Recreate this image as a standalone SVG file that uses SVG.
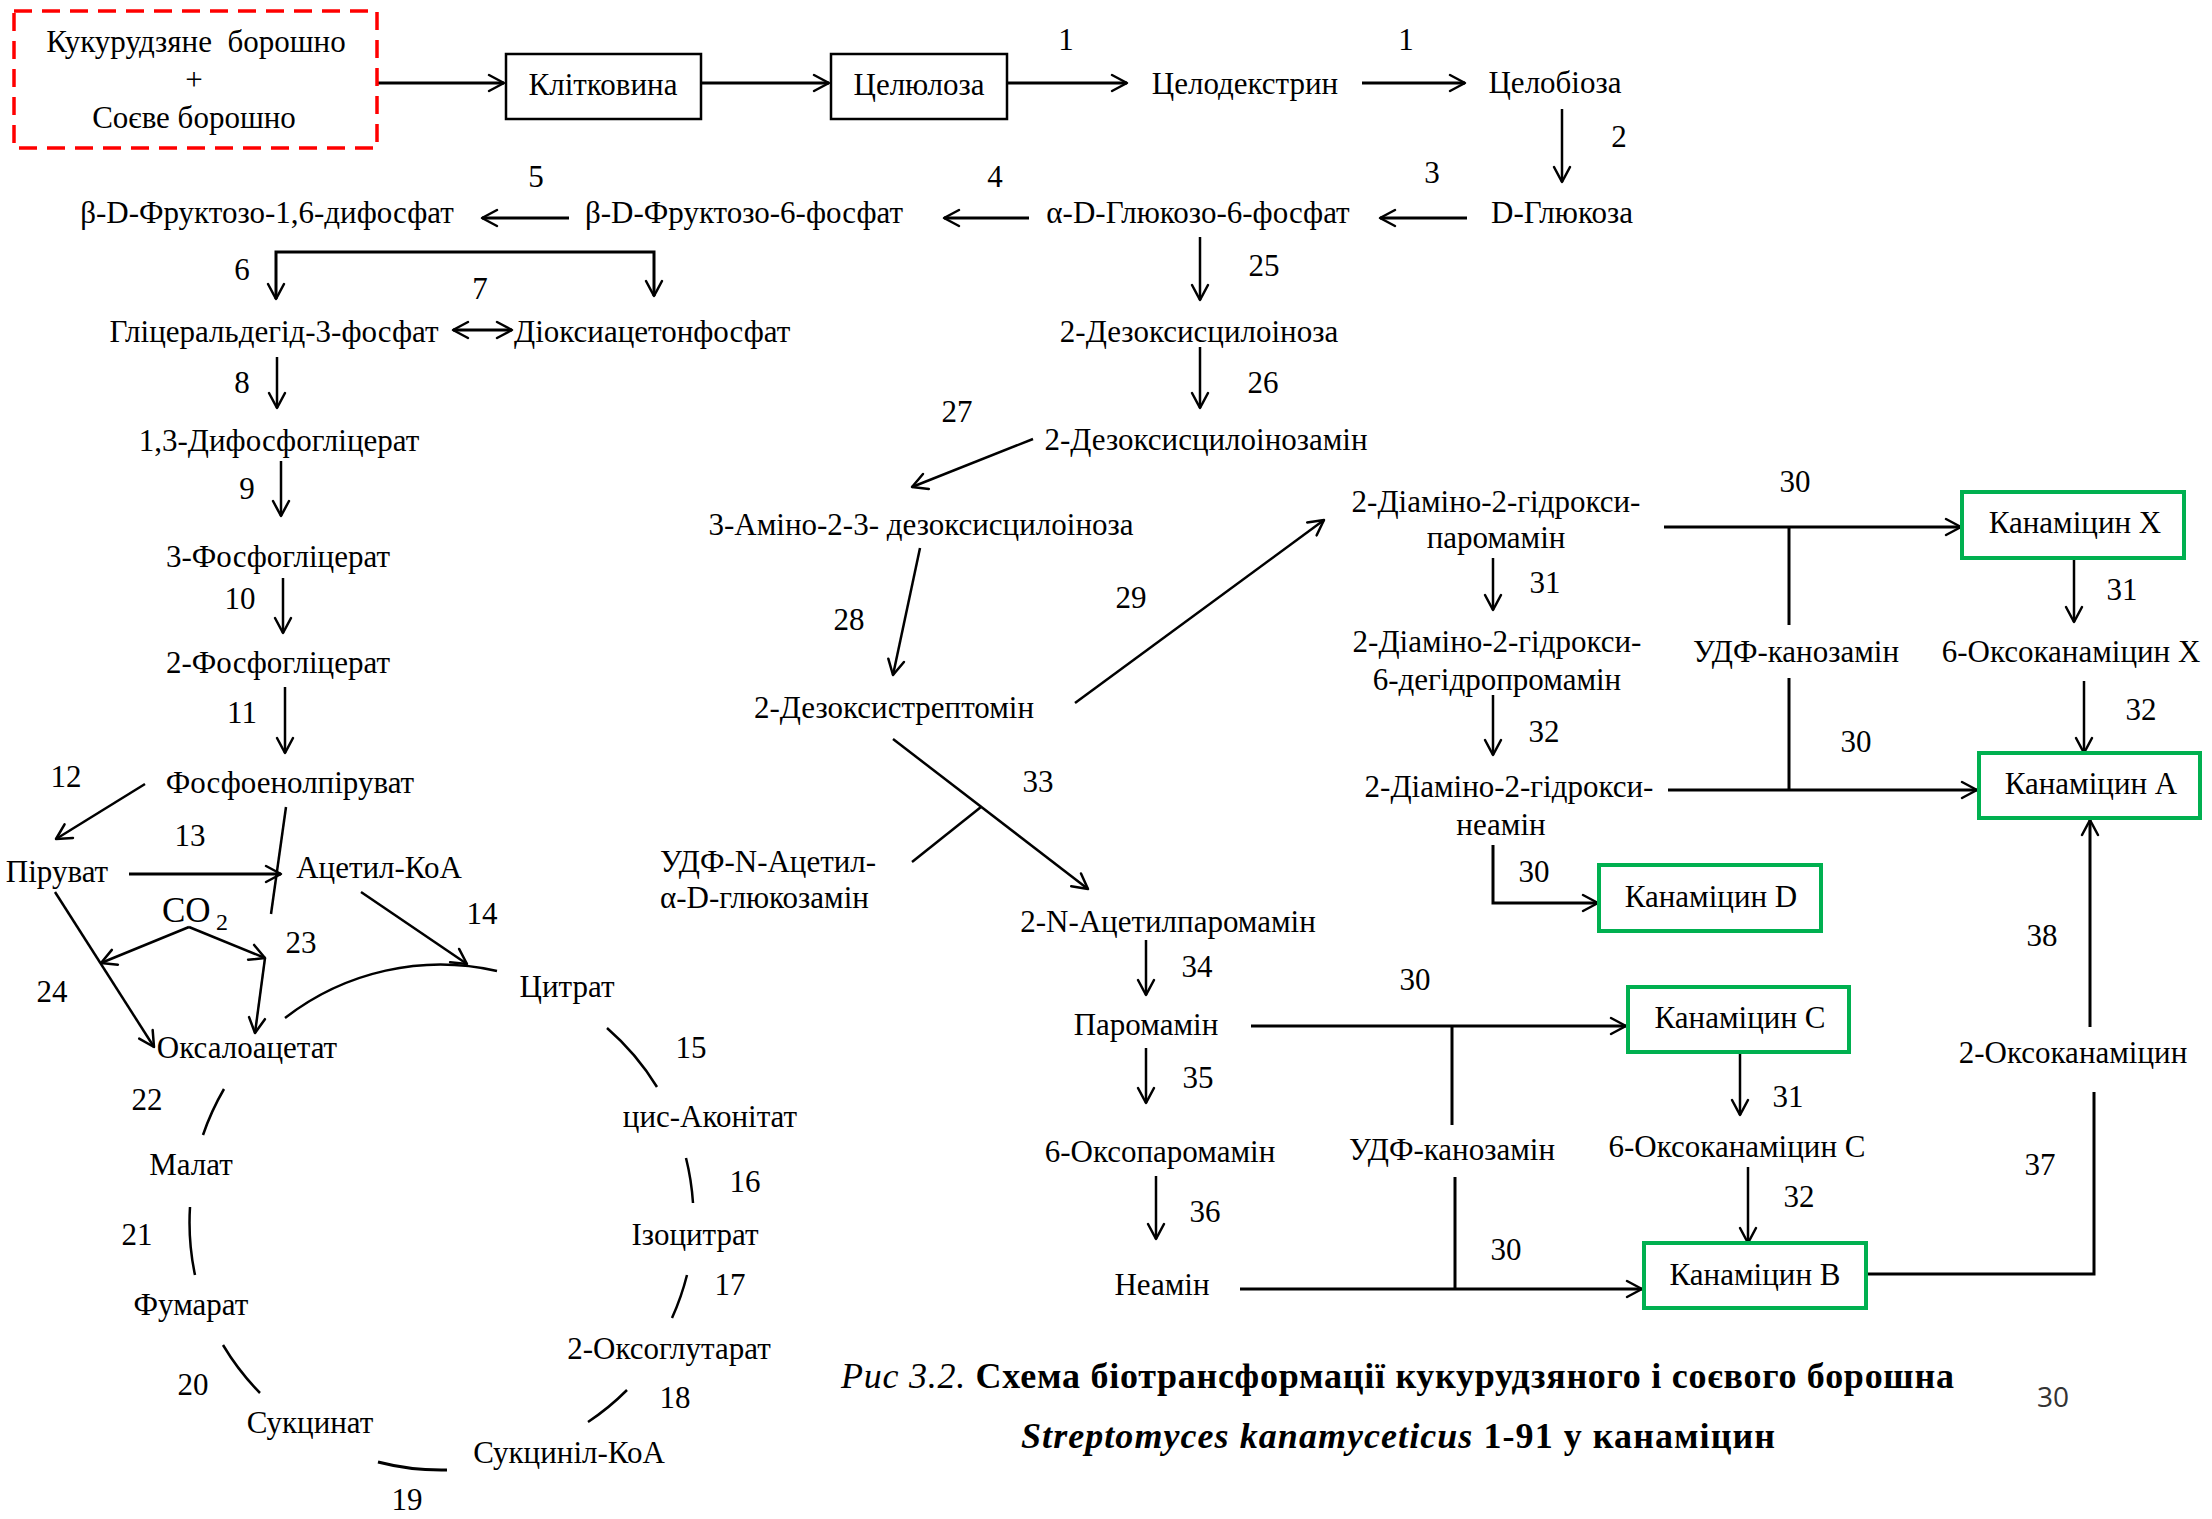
<svg xmlns="http://www.w3.org/2000/svg" width="2212" height="1519" viewBox="0 0 2212 1519">
<style>
text{font-family:"Liberation Serif","Times New Roman",serif;font-size:31px;fill:#000}
.m{text-anchor:middle}
.c{fill:none;stroke:#000;stroke-width:2.5}
.c3{fill:none;stroke:#000;stroke-width:3}
.box{fill:#fff;stroke:#000;stroke-width:2.5}
.gbox{fill:#fff;stroke:#00B050;stroke-width:4}
.a{marker-end:url(#ah)}
.cap{font-size:36px;font-weight:bold}
</style>
<defs>
<marker id="ah" markerUnits="userSpaceOnUse" markerWidth="20" markerHeight="20" viewBox="0 0 20 20" refX="17" refY="10" orient="auto-start-reverse">
<path d="M2,2 L17,10 L2,18" fill="none" stroke="#000" stroke-width="2.5" stroke-linejoin="round" stroke-linecap="round"/>
</marker>
</defs>
<rect width="2212" height="1519" fill="#fff"/>

<g id="connectors">
<line class="c3 a" x1="377" y1="83" x2="504" y2="83"/>
<line class="c3 a" x1="701" y1="83" x2="829" y2="83"/>
<line class="c3 a" x1="1007" y1="83" x2="1127" y2="83"/>
<line class="c3 a" x1="1362" y1="83" x2="1465" y2="83"/>
<line class="c a" x1="1562" y1="109" x2="1562" y2="182"/>
<line class="c3 a" x1="1467" y1="218" x2="1380" y2="218"/>
<line class="c3 a" x1="1029" y1="218" x2="944" y2="218"/>
<line class="c3 a" x1="569" y1="218" x2="482" y2="218"/>
<path class="c3" d="M276,299 L276,252 L654,252 L654,296" marker-start="url(#ah)" marker-end="url(#ah)"/>
<line class="c3" x1="453" y1="330" x2="512" y2="330" marker-start="url(#ah)" marker-end="url(#ah)"/>
<line class="c a" x1="277" y1="357" x2="277" y2="408"/>
<line class="c a" x1="281" y1="461" x2="281" y2="516"/>
<line class="c a" x1="283" y1="578" x2="283" y2="633"/>
<line class="c a" x1="285" y1="687" x2="285" y2="753"/>
<line class="c a" x1="145" y1="784" x2="56" y2="839"/>
<line class="c3 a" x1="129" y1="874" x2="281" y2="874"/>
<line class="c" x1="286" y1="807" x2="271" y2="914"/>
<line class="c a" x1="189" y1="927" x2="101" y2="963"/>
<line class="c a" x1="189" y1="927" x2="265" y2="958"/>
<line class="c a" x1="265" y1="958" x2="255" y2="1033"/>
<line class="c a" x1="55" y1="892" x2="154" y2="1047"/>
<line class="c a" x1="361" y1="892" x2="467" y2="964"/>
<path class="c" d="M285,1018 A253,253 0 0 1 497,971"/>
<path class="c" d="M607,1028 A253,253 0 0 1 657,1087"/>
<path class="c" d="M686,1158 A253,253 0 0 1 693,1203"/>
<path class="c" d="M687,1275 A253,253 0 0 1 672,1318"/>
<path class="c" d="M627,1390 A253,253 0 0 1 588,1422"/>
<path class="c3" d="M447,1470 A253,253 0 0 1 378,1462"/>
<path class="c" d="M260,1393 A253,253 0 0 1 223,1345"/>
<path class="c" d="M195,1275 A253,253 0 0 1 190,1207"/>
<path class="c" d="M203,1135 A253,253 0 0 1 224,1089"/>
<line class="c a" x1="1200" y1="237" x2="1200" y2="300"/>
<line class="c a" x1="1200" y1="347" x2="1200" y2="408"/>
<line class="c a" x1="1033" y1="439" x2="912" y2="487"/>
<line class="c a" x1="920" y1="548" x2="893" y2="675"/>
<line class="c a" x1="1075" y1="703" x2="1324" y2="520"/>
<line class="c a" x1="893" y1="739" x2="1088" y2="889"/>
<line class="c" x1="981" y1="807" x2="912" y2="862"/>
<line class="c a" x1="1146" y1="940" x2="1146" y2="995"/>
<line class="c a" x1="1146" y1="1048" x2="1146" y2="1103"/>
<line class="c a" x1="1156" y1="1176" x2="1156" y2="1239"/>
<line class="c3 a" x1="1251" y1="1026" x2="1626" y2="1026"/>
<line class="c3" x1="1452" y1="1026" x2="1452" y2="1125"/>
<line class="c3 a" x1="1240" y1="1289" x2="1642" y2="1289"/>
<line class="c3" x1="1455" y1="1177" x2="1455" y2="1289"/>
<line class="c a" x1="1740" y1="1052" x2="1740" y2="1115"/>
<line class="c a" x1="1748" y1="1167" x2="1748" y2="1243"/>
<path class="c3" d="M1866,1274 L2094,1274 L2094,1092"/>
<line class="c3 a" x1="2090" y1="1027" x2="2090" y2="820"/>
<line class="c3 a" x1="1664" y1="527" x2="1961" y2="527"/>
<line class="c3" x1="1789" y1="527" x2="1789" y2="625"/>
<line class="c3" x1="1789" y1="678" x2="1789" y2="790"/>
<line class="c3 a" x1="1668" y1="790" x2="1977" y2="790"/>
<line class="c a" x1="2074" y1="558" x2="2074" y2="622"/>
<line class="c a" x1="2084" y1="681" x2="2084" y2="753"/>
<line class="c a" x1="1493" y1="558" x2="1493" y2="610"/>
<line class="c a" x1="1493" y1="695" x2="1493" y2="755"/>
<path class="c3 a" d="M1493,845 L1493,903 L1598,903"/>
</g>

<g id="edge-labels">
<text class="m" x="1066" y="50">1</text>
<text class="m" x="1406" y="50">1</text>
<text class="m" x="1619" y="147">2</text>
<text class="m" x="1432" y="183">3</text>
<text class="m" x="995" y="187">4</text>
<text class="m" x="536" y="187">5</text>
<text class="m" x="242" y="280">6</text>
<text class="m" x="480" y="299">7</text>
<text class="m" x="242" y="393">8</text>
<text class="m" x="247" y="499">9</text>
<text class="m" x="240" y="609">10</text>
<text class="m" x="242" y="723">11</text>
<text class="m" x="66" y="787">12</text>
<text class="m" x="190" y="846">13</text>
<text class="m" x="482" y="924">14</text>
<text class="m" x="301" y="953">23</text>
<text class="m" x="52" y="1002">24</text>
<text class="m" x="691" y="1058">15</text>
<text class="m" x="147" y="1110">22</text>
<text class="m" x="745" y="1192">16</text>
<text class="m" x="137" y="1245">21</text>
<text class="m" x="730" y="1295">17</text>
<text class="m" x="193" y="1395">20</text>
<text class="m" x="675" y="1408">18</text>
<text class="m" x="407" y="1510">19</text>
<text class="m" x="1264" y="276">25</text>
<text class="m" x="1263" y="393">26</text>
<text class="m" x="957" y="422">27</text>
<text class="m" x="849" y="630">28</text>
<text class="m" x="1131" y="608">29</text>
<text class="m" x="1038" y="792">33</text>
<text class="m" x="1197" y="977">34</text>
<text class="m" x="1198" y="1088">35</text>
<text class="m" x="1205" y="1222">36</text>
<text class="m" x="1415" y="990">30</text>
<text class="m" x="1506" y="1260">30</text>
<text class="m" x="1795" y="492">30</text>
<text class="m" x="1545" y="593">31</text>
<text class="m" x="1544" y="742">32</text>
<text class="m" x="1534" y="882">30</text>
<text class="m" x="2122" y="600">31</text>
<text class="m" x="2141" y="720">32</text>
<text class="m" x="1856" y="752">30</text>
<text class="m" x="2042" y="946">38</text>
<text class="m" x="2040" y="1175">37</text>
<text class="m" x="1788" y="1107">31</text>
<text class="m" x="1799" y="1207">32</text>
</g>

<g id="n-flour">
<rect x="14" y="11" width="363" height="137" fill="none" stroke="#FF0000" stroke-width="3.5" stroke-dasharray="18,10"/>
<text class="m" x="196" y="52">Кукурудзяне&#160; борошно</text>
<text class="m" x="194" y="90">+</text>
<text class="m" x="194" y="128">Соєве борошно</text>
</g>
<g id="n-klitkovyna"><rect class="box" x="506" y="54" width="195" height="65"/><text class="m" x="603" y="95">Клітковина</text></g>
<g id="n-cellulose"><rect class="box" x="831" y="54" width="176" height="65"/><text class="m" x="919" y="95">Целюлоза</text></g>
<g id="n-cellodextrin"><text class="m" x="1245" y="94">Целодекстрин</text></g>
<g id="n-cellobiose"><text class="m" x="1555" y="93">Целобіоза</text></g>
<g id="n-glucose"><text class="m" x="1562" y="223">D-Глюкоза</text></g>
<g id="n-g6p"><text class="m" x="1198" y="223">α-D-Глюкозо-6-фосфат</text></g>
<g id="n-f6p"><text class="m" x="744" y="223">β-D-Фруктозо-6-фосфат</text></g>
<g id="n-f16bp"><text class="m" x="267" y="223">β-D-Фруктозо-1,6-дифосфат</text></g>
<g id="n-g3p"><text class="m" x="274" y="342">Гліцеральдегід-3-фосфат</text></g>
<g id="n-dhap"><text x="514" y="342">Діоксиацетонфосфат</text></g>
<g id="n-13bpg"><text class="m" x="279" y="451">1,3-Дифосфогліцерат</text></g>
<g id="n-3pg"><text class="m" x="278" y="567">3-Фосфогліцерат</text></g>
<g id="n-2pg"><text class="m" x="278" y="673">2-Фосфогліцерат</text></g>
<g id="n-pep"><text class="m" x="290" y="793">Фосфоенолпіруват</text></g>
<g id="n-pyruvate"><text class="m" x="57" y="882">Піруват</text></g>
<g id="n-acetylcoa"><text class="m" x="379" y="878">Ацетил-КоА</text></g>
<g id="n-co2"><text x="162" y="922" style="font-size:35px">CO</text><text x="216" y="930" style="font-size:24px">2</text></g>
<g id="n-citrate"><text class="m" x="567" y="997">Цитрат</text></g>
<g id="n-oxaloacetate"><text class="m" x="247" y="1058">Оксалоацетат</text></g>
<g id="n-malate"><text class="m" x="191" y="1175">Малат</text></g>
<g id="n-fumarate"><text class="m" x="191" y="1315">Фумарат</text></g>
<g id="n-succinate"><text class="m" x="310" y="1433">Сукцинат</text></g>
<g id="n-succinylcoa"><text class="m" x="569" y="1463">Сукциніл-КоА</text></g>
<g id="n-oxoglutarate"><text class="m" x="669" y="1359">2-Оксоглутарат</text></g>
<g id="n-isocitrate"><text class="m" x="695" y="1245">Ізоцитрат</text></g>
<g id="n-aconitate"><text class="m" x="710" y="1127">цис-Аконітат</text></g>
<g id="n-dsi"><text class="m" x="1199" y="342">2-Дезоксисцилоіноза</text></g>
<g id="n-dsia"><text class="m" x="1206" y="450">2-Дезоксисцилоінозамін</text></g>
<g id="n-amino"><text class="m" x="921" y="535">3-Аміно-2-3- дезоксисцилоіноза</text></g>
<g id="n-dos"><text class="m" x="894" y="718">2-Дезоксистрептомін</text></g>
<g id="n-udpglcnac"><text x="660" y="872">УДФ-N-Ацетил-</text><text x="660" y="908">α-D-глюкозамін</text></g>
<g id="n-acparomamine"><text class="m" x="1168" y="932">2-N-Ацетилпаромамін</text></g>
<g id="n-paromamine"><text class="m" x="1146" y="1035">Паромамін</text></g>
<g id="n-oxoparomamine"><text class="m" x="1160" y="1162">6-Оксопаромамін</text></g>
<g id="n-neamine"><text class="m" x="1162" y="1295">Неамін</text></g>
<g id="n-udpkan2"><text class="m" x="1452" y="1160">УДФ-канозамін</text></g>
<g id="n-dahp"><text class="m" x="1496" y="512">2-Діаміно-2-гідрокси-</text><text class="m" x="1496" y="548">паромамін</text></g>
<g id="n-dahdp"><text class="m" x="1497" y="652">2-Діаміно-2-гідрокси-</text><text class="m" x="1497" y="690">6-дегідропромамін</text></g>
<g id="n-dahn"><text class="m" x="1509" y="797">2-Діаміно-2-гідрокси-</text><text class="m" x="1501" y="835">неамін</text></g>
<g id="n-udpkan1"><text class="m" x="1796" y="662">УДФ-канозамін</text></g>
<g id="n-oxokanx"><text class="m" x="2071" y="662">6-Оксоканаміцин X</text></g>
<g id="n-kanx"><rect class="gbox" x="1962" y="492" width="222" height="66"/><text class="m" x="2075" y="533">Канаміцин X</text></g>
<g id="n-kana"><rect class="gbox" x="1979" y="753" width="221" height="65"/><text class="m" x="2091" y="794">Канаміцин A</text></g>
<g id="n-kand"><rect class="gbox" x="1599" y="865" width="222" height="66"/><text class="m" x="1711" y="907">Канаміцин D</text></g>
<g id="n-kanc"><rect class="gbox" x="1628" y="987" width="221" height="65"/><text class="m" x="1740" y="1028">Канаміцин C</text></g>
<g id="n-oxokanc"><text class="m" x="1737" y="1157">6-Оксоканаміцин C</text></g>
<g id="n-kanb"><rect class="gbox" x="1644" y="1243" width="222" height="65"/><text class="m" x="1755" y="1285">Канаміцин B</text></g>
<g id="n-oxokan"><text class="m" x="2073" y="1063">2-Оксоканаміцин</text></g>

<g id="caption">
<text class="cap" x="841" y="1388" textLength="1113" lengthAdjust="spacing"><tspan style="font-style:italic;font-weight:normal">Рис 3.2.</tspan> Схема біотрансформації кукурудзяного і соєвого борошна</text>
<text class="cap" x="1021" y="1448" textLength="754" lengthAdjust="spacing"><tspan style="font-style:italic">Streptomyces kanamyceticus</tspan> 1-91 у канаміцин</text>
</g>
<g id="page-number"><text x="2053" y="1407" class="m" style="font-family:'Open Sans','Liberation Sans',sans-serif;font-size:28px;fill:#333">30</text></g>
</svg>
